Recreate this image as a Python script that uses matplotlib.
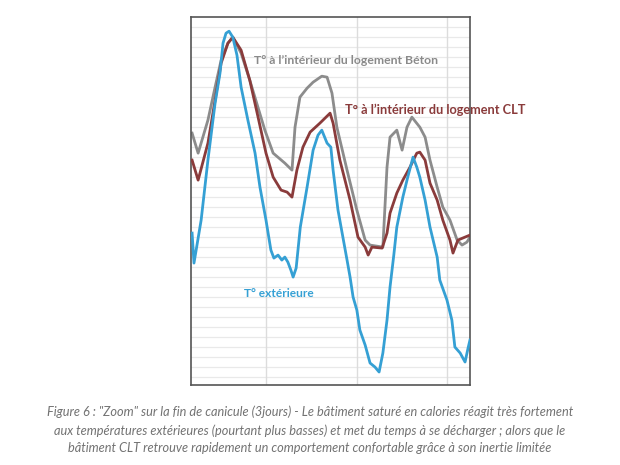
import matplotlib
matplotlib.use("Agg")
import matplotlib.pyplot as plt
import numpy as np

# hours since start of the zoom window, temperatures in degC
ext_hours = [0.3, 0.8, 2.7, 4.5, 6.4, 7.7, 8.5, 9.3, 10.1, 11.1, 12.2, 13.3, 15.1, 17.0,
             18.3, 19.9, 21.2, 22.0, 23.1, 24.1, 24.9, 25.7, 26.5, 27.1, 27.9, 29.0,
             30.8, 32.4, 33.7, 34.7, 36.1, 37.1, 37.7, 39.0, 40.1, 41.4, 42.2, 43.0,
             44.0, 44.8, 46.2, 47.5, 48.8, 49.9, 50.9, 52.0, 52.8, 53.8, 54.6, 56.2,
             57.5, 58.9, 59.9, 60.7, 62.1, 63.4, 65.3, 66.0, 67.9, 69.2, 70.0, 71.4,
             72.7, 73.5, 74.0]
ext_temp = [23.6, 22.1, 24.25, 27.25, 30.1, 31.6, 33.1, 33.6, 33.7, 33.4, 32.5, 30.9,
            29.25, 27.6, 25.9, 24.25, 22.75, 22.35, 22.5, 22.25, 22.4, 22.15, 21.75,
            21.4, 21.85, 23.9, 25.9, 27.75, 28.5, 28.75, 28.1, 27.9, 26.75, 24.75,
            23.6, 22.25, 21.4, 20.4, 19.75, 18.75, 18.0, 17.1, 16.9, 16.65, 17.6,
            19.25, 20.9, 22.5, 23.9, 25.4, 26.4, 27.4, 26.9, 26.4, 25.25, 23.9, 22.4,
            21.25, 20.25, 19.25, 17.9, 17.6, 17.15, 17.85, 18.25]

beton_hours = [0.3, 1.9, 4.5, 6.4, 8.0, 9.8, 11.1, 13.3, 15.6, 17.2, 19.6, 21.8, 24.9,
               26.8, 27.6, 28.9, 30.8, 32.4, 34.7, 36.1, 37.4, 38.7, 41.4, 44.0, 46.2,
               47.5, 50.9, 52.0, 52.8, 54.6, 56.0, 57.3, 58.6, 60.7, 62.1, 63.4, 65.3,
               66.8, 68.7, 70.6, 71.9, 73.2, 74.0]
beton_temp = [28.6, 27.6, 29.25, 30.9, 32.25, 33.1, 33.4, 32.6, 31.25, 30.25, 28.75,
              27.6, 27.1, 26.75, 28.9, 30.4, 30.85, 31.15, 31.45, 31.4, 30.6, 28.9,
              26.75, 24.75, 23.25, 23.0, 22.9, 26.9, 28.4, 28.75, 27.75, 28.9, 29.4,
              28.9, 28.4, 27.25, 25.9, 24.9, 24.25, 23.25, 23.0, 23.15, 23.4]

clt_hours = [0.3, 1.9, 4.5, 6.4, 8.0, 9.8, 11.1, 13.3, 15.6, 17.8, 19.9, 21.8, 23.9,
             25.5, 26.8, 28.1, 29.7, 31.6, 34.2, 36.9, 37.7, 39.5, 42.2, 44.3, 46.2,
             47.0, 48.0, 50.7, 52.0, 52.8, 54.6, 56.2, 58.1, 59.9, 60.7, 62.1, 63.4,
             65.3, 66.8, 68.7, 69.5, 70.8, 72.7, 74.0]
clt_temp = [27.25, 26.25, 28.1, 30.25, 32.1, 33.1, 33.4, 32.75, 31.25, 29.4, 27.6,
            26.4, 25.75, 25.65, 25.4, 26.75, 27.9, 28.65, 29.1, 29.6, 29.1, 27.25,
            25.25, 23.4, 22.9, 22.5, 22.9, 22.85, 23.6, 24.6, 25.6, 26.25, 26.9,
            27.6, 27.65, 27.25, 26.1, 25.25, 24.25, 23.25, 22.6, 23.25, 23.4, 23.5]

day_marks = [20, 44, 68]

caption = ('Figure 6 : "Zoom" sur la fin de canicule (3jours) - Le bâtiment saturé en calories réagit très fortement\n'
           'aux températures extérieures (pourtant plus basses) et met du temps à se décharger ; alors que le\n'
           'bâtiment CLT retrouve rapidement un comportement confortable grâce à son inertie limitée')

blue = "#35a0d4"
grey = "#8c8c8c"
maroon = "#8a3b3b"

plt.rcParams["font.family"] = ["Lato", "DejaVu Sans"]

fig = plt.figure(figsize=(6.2, 4.65), dpi=100)
ax = fig.add_axes([0.308, 0.172, 0.450, 0.791])

ax.set_xlim(0, 74)
ax.set_ylim(16, 34.4)
for y in np.arange(16.4, 34.4, 0.5):
    ax.axhline(y, color="#e9e9e9", lw=0.9, zorder=0)
for d in day_marks:
    ax.axvline(d, color="#dcdcdc", lw=1.0, zorder=0)

ax.plot(beton_hours, beton_temp, color=grey, lw=2.0, zorder=2)
ax.plot(clt_hours, clt_temp, color=maroon, lw=2.0, zorder=3)
ax.plot(ext_hours, ext_temp, color=blue, lw=2.0, zorder=4)

ax.set_xticks([])
ax.set_yticks([])
for s in ax.spines.values():
    s.set_color("#555555")
    s.set_linewidth(1.2)

ax.text(16.7, 32.25, "T° à l’intérieur du logement Béton", color="#8a8a8a",
        fontsize=8.8, fontweight="bold", va="center", ha="left")
ax.text(40.8, 29.75, "T° à l’intérieur du logement CLT", color=maroon,
        fontsize=9.2, fontweight="bold", va="center", ha="left", clip_on=False)
ax.text(14.1, 20.6, "T° extérieure", color=blue,
        fontsize=8.6, fontweight="bold", va="center", ha="left")

fig.text(0.5, 0.023, caption, ha="center", va="bottom", multialignment="center",
         color="#727272", fontsize=9.2, style="italic", linespacing=1.55)

fig.savefig("out.png", dpi=100)
